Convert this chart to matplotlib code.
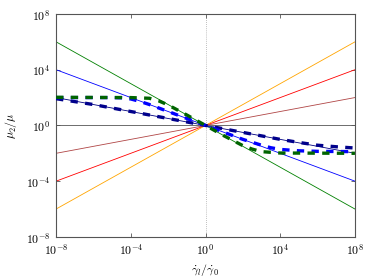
import numpy as np
import matplotlib
matplotlib.use("Agg")
import matplotlib.pyplot as plt

plt.rcParams['mathtext.fontset'] = 'cm'
plt.rcParams['font.family'] = 'serif'
plt.rcParams['font.serif'] = ['cmr10', 'DejaVu Serif']
plt.rcParams['axes.formatter.use_mathtext'] = True

# power-law reference lines through (1, 1): log10 x -> log10 y
line_x = [-8, 0, 8]
line_slopes = {
    'green': -0.75,
    'blue': -0.5,
    'navy': -0.25,
    '#555555': 0.0,
    '#b04545': 0.25,
    'red': 0.5,
    'orange': 0.75,
}

# model curves (log10 values)
navy_x = [-8, -6, -4, -2, 0, 2, 4, 5, 6, 7, 8]
navy_y = [1.92, 1.5, 1.0, 0.5, 0.0, -0.5, -1.0, -1.22, -1.42, -1.53, -1.62]

blue_x = [-8, -5, -4.5, -4, -3.5, -3, -2, -1, 0, 1, 2, 3, 3.5, 4, 5, 6, 8]
blue_y = [2.0, 2.0, 1.98, 1.9, 1.72, 1.5, 1.0, 0.5, 0.0, -0.5, -1.0, -1.42,
          -1.6, -1.72, -1.82, -1.86, -1.88]

green_x = [-8, -4, -3, -2.5, -2, -1, 0, 1, 2, 2.5, 3, 4, 8]
green_y = [2.02, 2.0, 1.95, 1.76, 1.47, 0.75, 0.0, -0.75, -1.45, -1.7, -1.88,
           -1.98, -2.0]

ticks = [-8, -4, 0, 4, 8]

fig = plt.figure(figsize=(3.74, 2.80), dpi=100)
ax = fig.add_axes([0.15, 0.154, 0.799, 0.796])

ax.axvline(1.0, color='#aaaaaa', lw=0.6, ls=(0, (1, 1.5)), zorder=1)

for c, s in line_slopes.items():
    xs = 10.0 ** np.array(line_x, float)
    ys = 10.0 ** (s * np.array(line_x, float))
    ax.plot(xs, ys, color=c, lw=0.6, zorder=2)

ax.plot(10.0 ** np.array(navy_x), 10.0 ** np.array(navy_y), color='#00008b',
        lw=2.4, ls=(0, (2.2, 2.2)), zorder=3)
ax.plot(10.0 ** np.array(blue_x), 10.0 ** np.array(blue_y), color='blue',
        lw=2.4, ls=(0, (2.2, 2.2)), zorder=3)
ax.plot(10.0 ** np.array(green_x), 10.0 ** np.array(green_y), color='#006400',
        lw=2.4, ls=(0, (2.2, 2.2)), zorder=4)

ax.set_xscale('log')
ax.set_yscale('log')
ax.set_xlim(1e-8, 1e8)
ax.set_ylim(1e-8, 1e8)
ax.set_xticks([10.0 ** t for t in ticks])
ax.set_yticks([10.0 ** t for t in ticks])
ax.set_xticklabels([f'$10^{{{t}}}$' for t in ticks])
ax.set_yticklabels([f'$10^{{{t}}}$' for t in ticks])
ax.minorticks_off()
ax.tick_params(direction='in', length=3, width=0.6, color='#555555',
               labelsize=8.5, top=True, right=True, pad=4)
for sp in ax.spines.values():
    sp.set_color('#555555')
    sp.set_linewidth(0.8)

ax.set_xlabel(r'$\dot{\gamma}_l/\dot{\gamma}_0$', fontsize=8.5, labelpad=3)
ax.set_ylabel(r'$\mu_2/\mu$', fontsize=8.5, labelpad=5)

fig.savefig('out.png', dpi=100)
